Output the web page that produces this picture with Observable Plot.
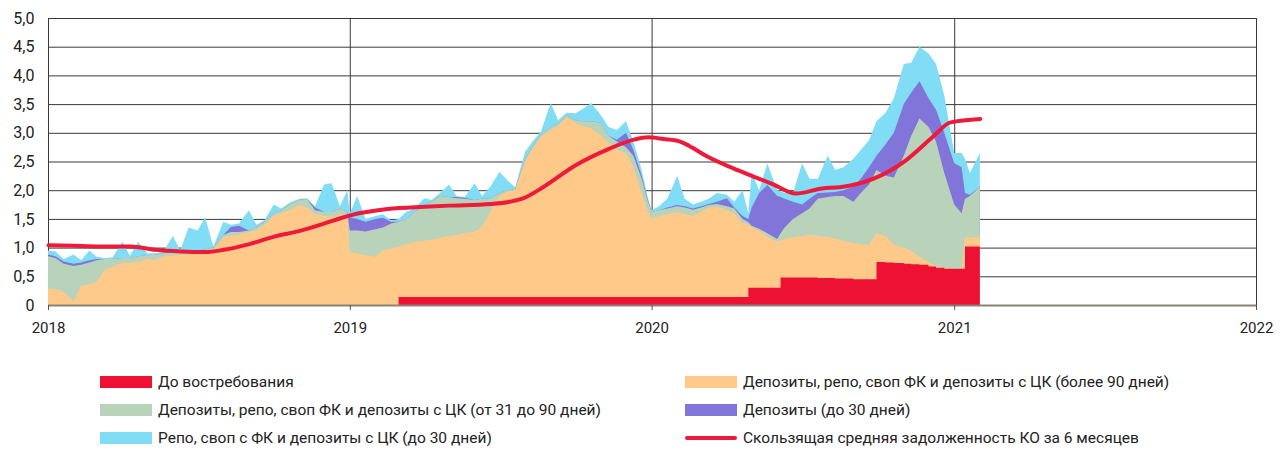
<!DOCTYPE html>
<html>
<head>
<meta charset="utf-8">
<script src="https://cdn.jsdelivr.net/npm/d3@7"></script>
<script src="https://cdn.jsdelivr.net/npm/@observablehq/plot@0.6"></script>
<style>
  body { margin: 0; background: #fff; font-family: Roboto, "Open Sans", sans-serif; }
  #wrap { position: relative; width: 1285px; height: 450px; }
  #chart { position: absolute; left: 0; top: 0; }
  .lg { position: absolute; display: flex; align-items: center; font-size: 15.5px; color: #222; white-space: nowrap; }
  .sw { width: 52px; height: 12px; margin-right: 6px; }
  .swl { width: 52px; height: 4px; border-radius: 2px; margin-right: 6px; }
</style>
</head>
<body>
<div id="wrap"><div id="chart"></div></div>
<script>
// ---- Data (трлн руб.) ----
const dates = [
 "2018-01-01","2018-01-10","2018-01-20","2018-02-01","2018-02-10","2018-02-20","2018-03-01","2018-03-10","2018-03-20",
 "2018-04-01","2018-04-10","2018-04-20","2018-05-01","2018-05-10","2018-05-20","2018-06-01","2018-06-10","2018-06-20",
 "2018-07-01","2018-07-10","2018-07-20","2018-08-01","2018-08-10","2018-08-20","2018-09-01","2018-09-10","2018-09-20",
 "2018-10-01","2018-10-10","2018-10-20","2018-11-01","2018-11-10","2018-11-20","2018-12-01","2018-12-10","2018-12-20","2018-12-29",
 "2019-01-01","2019-01-10","2019-01-20","2019-02-01","2019-02-10","2019-02-20","2019-03-01","2019-03-10","2019-03-20",
 "2019-04-01","2019-04-10","2019-04-20","2019-05-01","2019-05-10","2019-05-20","2019-06-01","2019-06-10","2019-06-20",
 "2019-07-01","2019-07-10","2019-07-20","2019-08-01","2019-08-10","2019-08-20","2019-09-01","2019-09-10","2019-09-20",
 "2019-10-01","2019-10-10","2019-10-20","2019-11-01","2019-11-10","2019-11-20","2019-12-01","2019-12-10","2019-12-20","2019-12-27",
 "2020-01-01","2020-01-10","2020-01-20","2020-02-01","2020-02-10","2020-02-20","2020-03-01","2020-03-10","2020-03-20",
 "2020-04-01","2020-04-10","2020-04-20","2020-04-27","2020-05-01","2020-05-10","2020-05-20","2020-06-01","2020-06-05","2020-06-10","2020-06-20",
 "2020-07-01","2020-07-10","2020-07-20","2020-08-01","2020-08-10","2020-08-20","2020-09-01","2020-09-10","2020-09-20",
 "2020-09-29","2020-10-10","2020-10-20","2020-11-01","2020-11-10","2020-11-20","2020-12-01","2020-12-10","2020-12-20",
 "2021-01-01","2021-01-10","2021-01-14","2021-01-20","2021-02-01"
];
// До востребования
const demand = [
 0,0,0,0,0,0,0,0,0, 0,0,0,0,0,0,0,0,0, 0,0,0,0,0,0,0,0,0, 0,0,0,0,0,0,0,0,0,0,
 0,0,0,0,0,0,0.14,0.14,0.14, 0.14,0.14,0.14,0.14,0.14,0.14,0.14,0.14,0.14,
 0.14,0.14,0.14,0.14,0.14,0.14,0.14,0.14,0.14, 0.14,0.14,0.14,0.14,0.14,0.14,0.14,0.14,0.14,0.14,
 0.14,0.14,0.14,0.14,0.14,0.14,0.14,0.14,0.14, 0.14,0.14,0.14,0.30,0.30,0.30,0.30,0.30,0.48,0.48,0.48,
 0.48,0.48,0.47,0.47,0.46,0.46,0.45,0.45,0.45, 0.75,0.74,0.73,0.72,0.71,0.70,0.67,0.65,0.63,
 0.63,0.63,1.02,1.02,1.02
];
// Депозиты, репо, своп ФК и депозиты с ЦК (более 90 дней)
const over90 = [
 0.28,0.28,0.22,0.06,0.33,0.36,0.40,0.60,0.66, 0.73,0.73,0.75,0.80,0.77,0.85,0.86,0.87,0.88,
 0.90,0.92,0.95,1.18,1.20,1.22,1.27,1.30,1.40, 1.55,1.60,1.65,1.74,1.70,1.58,1.55,1.53,1.58,1.53,
 0.92,0.90,0.87,0.84,0.95,0.98,0.88,0.92,0.96, 0.98,1.00,1.03,1.06,1.08,1.11,1.14,1.22,1.48,
 1.76,1.83,1.86,2.36,2.58,2.79,2.91,2.98,3.14, 3.03,2.98,2.94,2.81,2.68,2.56,2.51,2.26,1.81,1.51,
 1.36,1.41,1.44,1.48,1.44,1.41,1.48,1.56,1.57, 1.51,1.46,1.29,1.10,1.06,1.00,0.89,0.80,0.64,0.68,0.70,
 0.72,0.74,0.73,0.71,0.70,0.66,0.63,0.61,0.60, 0.50,0.46,0.32,0.28,0.23,0.14,0.08,0.03,0.01,
 0,0,0.15,0.15,0.16
];
// Депозиты, репо, своп ФК и депозиты с ЦК (от 31 до 90 дней)
const d31to90 = [
 0.57,0.54,0.50,0.62,0.37,0.38,0.38,0.20,0.14, 0.09,0.09,0.10,0.07,0.10,0.05,0.06,0.05,0.05,
 0.05,0.05,0.05,0.04,0.07,0.05,0.03,0.05,0.05, 0.05,0.05,0.10,0.09,0.15,0.07,0.07,0.09,0.10,0.09,
 0.38,0.40,0.41,0.48,0.40,0.44,0.43,0.44,0.52, 0.62,0.66,0.73,0.68,0.64,0.60,0.55,0.49,0.24,
 0.05,0.03,0.02,0.05,0.04,0.03,0.05,0.04,0.02, 0.05,0.08,0.12,0.22,0.13,0.15,0.10,0.20,0.25,0.18,
 0.12,0.10,0.10,0.10,0.12,0.11,0.08,0.04,0.05, 0.07,0.08,0.07,0.04,0.02,0.03,0.06,0.05,0.13,0.19,0.32,
 0.40,0.46,0.65,0.70,0.74,0.78,0.72,0.89,1.05, 1.10,1.05,1.17,1.60,2.01,2.41,2.35,2.17,1.66,
 1.12,0.97,0.68,0.73,0.88
];
// Депозиты (до 30 дней)
const dep30 = [
 0.03,0.03,0.04,0.04,0.04,0.04,0.02,0,0, 0,0,0,0,0,0,0,0,0,
 0,0,0,0,0.09,0.11,0,0,0, 0,0,0,0,0,0.05,0,0,0,0,
 0.23,0.20,0.17,0.18,0.17,0.03,0,0,0, 0,0,0,0,0.02,0.02,0,0,0,
 0,0,0,0,0,0,0,0,0, 0,0,0,0,0,0.03,0.25,0.10,0.05,0.02,
 0,0,0.02,0.02,0.02,0.02,0.02,0.02,0.04, 0.14,0.02,0.05,0.06,0.32,0.62,0.84,0.75,0.63,0.50,0.30,
 0.15,0.17,0.10,0.08,0.07,0.10,0.26,0.25,0.30, 0.25,0.55,0.78,0.90,0.75,0.65,0.50,0.55,0.70,
 0.72,0.80,0.10,0.02,0
];
// Репо, своп с ФК и депозиты с ЦК (до 30 дней)
const repo30 = [
 0.07,0.08,0.04,0.16,0.04,0.17,0.04,0.02,0.03, 0.28,0.04,0.25,0.03,0.03,0.02,0.28,0.04,0.42,
 0.35,0.56,0.02,0.23,0.04,0.04,0.35,0.05,0.03, 0.15,0.03,0.03,0.02,0.01,0.02,0.48,0.50,0.04,0.38,
 0.07,0.40,0.05,0.05,0.06,0.02,0.05,0.12,0.06, 0.12,0.03,0.05,0.22,0.02,0.01,0.29,0.05,0.20,
 0.37,0.18,0.03,0.12,0.09,0.06,0.42,0.06,0.05, 0.12,0.22,0.32,0.13,0.15,0.17,0.20,0.15,0.10,0.05,
 0.03,0.07,0.15,0.51,0.13,0.07,0.08,0.09,0.15, 0.06,0.10,0.45,0.10,0.62,0.05,0.38,0.10,0.10,0.10,0.15,
 0.72,0.35,0.25,0.64,0.38,0.40,0.49,0.50,0.47, 0.60,0.55,0.60,0.70,0.52,0.60,0.78,0.80,0.65,
 0.18,0.25,0.60,0.38,0.59
];
// Скользящая средняя задолженность КО за 6 месяцев
const maDates = [
 "2018-01-01","2018-02-01","2018-03-01","2018-04-10","2018-05-10","2018-06-10","2018-07-10","2018-08-01","2018-09-01",
 "2018-10-01","2018-11-01","2018-12-01","2018-12-20","2019-01-01","2019-02-15","2019-04-01","2019-05-01","2019-06-20",
 "2019-07-10","2019-07-28","2019-08-22","2019-09-30","2019-11-10","2019-12-10","2019-12-27","2020-01-15","2020-02-03",
 "2020-02-15","2020-03-06","2020-04-15","2020-05-25","2020-06-23","2020-07-25","2020-08-15","2020-09-25","2020-11-03",
 "2020-12-05","2020-12-27","2021-02-01"
];
const maValues = [
 1.05,1.04,1.03,1.03,0.97,0.94,0.93,0.97,1.07,
 1.20,1.30,1.43,1.52,1.57,1.68,1.72,1.74,1.77,
 1.80,1.86,2.06,2.44,2.73,2.89,2.93,2.90,2.86,
 2.78,2.61,2.35,2.12,1.95,2.04,2.06,2.21,2.53,
 2.93,3.19,3.25
];
const yTicks = [0,0.5,1,1.5,2,2.5,3,3.5,4,4.5,5];
const yearTicks = ["2018-01-01","2019-01-01","2020-01-01","2021-01-01","2022-01-01"];

const colors = {
  demand: "#ED1133", over90: "#FFCA89", d31to90: "#B9D3BA",
  dep30: "#8175D9", repo30: "#80DDF5", ma: "#EE1A3A"
};
const labels = {
  demand: "До востребования",
  over90: "Депозиты, репо, своп ФК и депозиты с ЦК (более 90 дней)",
  d31to90: "Депозиты, репо, своп ФК и депозиты с ЦК (от 31 до 90 дней)",
  dep30: "Депозиты (до 30 дней)",
  repo30: "Репо, своп с ФК и депозиты с ЦК (до 30 дней)",
  ma: "Скользящая средняя задолженность КО за 6 месяцев"
};

const rows = dates.map((d, i) => {
  const c1 = demand[i];
  const c2 = c1 + over90[i];
  const c3 = c2 + d31to90[i];
  const c4 = c3 + dep30[i];
  const c5 = c4 + repo30[i];
  return {date: new Date(d), c1, c2, c3, c4, c5};
});
const ma = maDates.map((d, i) => ({date: new Date(d), v: maValues[i]}));
const years = yearTicks.map(d => new Date(d));

const fmt = v => v === 0 ? "0" : v.toFixed(1).replace(".", ",");

const chart = Plot.plot({
  width: 1285,
  height: 340,
  marginLeft: 48,
  marginRight: 29,
  marginTop: 18,
  marginBottom: 35,
  style: {fontFamily: "Roboto, sans-serif", background: "#fff"},
  x: {type: "utc", domain: [new Date("2018-01-01"), new Date("2022-01-01")]},
  y: {domain: [0, 5]},
  marks: [
    Plot.ruleY(yTicks, {stroke: "#3a3a3a", strokeWidth: 1}),
    Plot.ruleX(years, {stroke: "#3a3a3a", strokeWidth: 1, y1: 0, y2: 5}),
    Plot.areaY(rows, {x: "date", y: "c5", fill: colors.repo30}),
    Plot.areaY(rows, {x: "date", y: "c4", fill: colors.dep30}),
    Plot.areaY(rows, {x: "date", y: "c3", fill: colors.d31to90}),
    Plot.areaY(rows, {x: "date", y: "c2", fill: colors.over90}),
    Plot.areaY(rows, {x: "date", y: "c1", fill: colors.demand, curve: "step-after"}),
    Plot.ruleY([0], {stroke: "#8a8178", strokeWidth: 2}),
    Plot.line(ma, {x: "date", y: "v", stroke: colors.ma, strokeWidth: 4, curve: "monotone-x", strokeLinecap: "round"}),
    Plot.axisY({ticks: yTicks, tickFormat: fmt, tickSize: 0, tickPadding: 14, fontSize: 16, fill: "#222", label: null}),
    Plot.axisX({ticks: years, tickFormat: d3.utcFormat("%Y"), tickSize: 5, tickPadding: 12, fontSize: 15, fill: "#222", stroke: "#555", label: null})
  ]
});
document.getElementById("chart").appendChild(chart);

// Legend
const legendItems = [
  {key: "demand", left: 100, top: 376},
  {key: "over90", left: 685, top: 376},
  {key: "d31to90", left: 100, top: 404},
  {key: "dep30", left: 685, top: 404},
  {key: "repo30", left: 100, top: 432},
  {key: "ma", left: 685, top: 432, line: true}
];
const wrap = document.getElementById("wrap");
for (const it of legendItems) {
  const el = document.createElement("div");
  el.className = "lg";
  el.style.left = it.left + "px";
  el.style.top = (it.top - 4) + "px";
  el.style.height = "20px";
  const sw = document.createElement("div");
  sw.className = it.line ? "swl" : "sw";
  sw.style.background = colors[it.key];
  const tx = document.createElement("span");
  tx.textContent = labels[it.key];
  el.appendChild(sw);
  el.appendChild(tx);
  wrap.appendChild(el);
}
</script>
</body>
</html>
